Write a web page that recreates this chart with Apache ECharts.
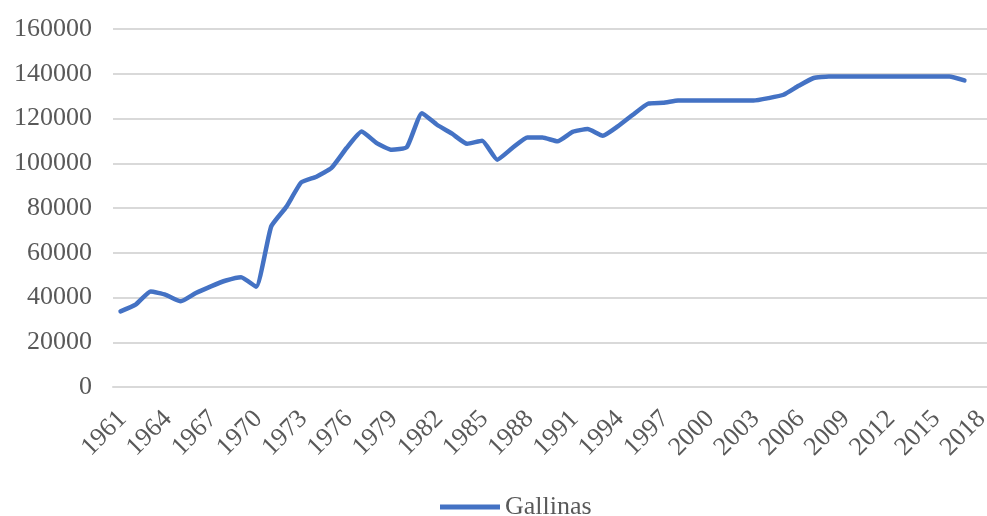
<!DOCTYPE html>
<html>
<head>
<meta charset="utf-8">
<script src="https://cdn.jsdelivr.net/npm/echarts@6/dist/echarts.min.js"></script>
<style>
  html, body { margin: 0; padding: 0; background: #ffffff; }
  #chart { width: 987px; height: 516px; }
</style>
</head>
<body>
<div id="chart"></div>
<script>
// Years on the category axis
const years = [];
for (let y = 1961; y <= 2018; y++) years.push(String(y));

// Gallinas (hens), head count per year; no value for the final year
const gallinas = [
  33800, 36800, 42700, 41200, 38300, 42000, 45000, 47600, 49100, 44800,
  71800, 80500, 91500, 94000, 97900, 106800, 114200, 109000, 106000, 107200,
  122400, 117200, 113200, 108700, 110100, 101600, 106800, 111500, 111500, 109800,
  114000, 115300, 112300, 116500, 121700, 126600, 127000, 128000, 128100, 128000,
  128000, 128000, 128000, 129100, 130600, 134600, 138100, 138800, 138800, 138800,
  138800, 138800, 138800, 138800, 138800, 138800, 137000, null
];

// Value axis ticks
const yMin = 0;
const yMax = 160000;
const yStep = 20000;

const textColor = '#595959';
const fontFamily = '"Liberation Serif", "Times New Roman", serif';

const chart = echarts.init(document.getElementById('chart'), null, { renderer: 'canvas' });
chart.setOption({
  animation: false,
  backgroundColor: '#ffffff',
  grid: {
    left: 113, top: 29, width: 874, height: 358,
    containLabel: false,
    outerBoundsMode: 'none'
  },
  xAxis: {
    type: 'category',
    data: years,
    boundaryGap: true,
    axisLine: { show: true, lineStyle: { color: '#d9d9d9', width: 2 } },
    axisTick: { show: false },
    axisLabel: {
      interval: 2,
      rotate: 45,
      margin: 30,
      padding: [0, -3, 0, 0],
      color: textColor,
      fontFamily: fontFamily,
      fontSize: 26
    },
    splitLine: { show: false }
  },
  yAxis: {
    type: 'value',
    min: yMin,
    max: yMax,
    interval: yStep,
    axisLine: { show: false },
    axisTick: { show: false },
    axisLabel: {
      margin: 21,
      color: textColor,
      fontFamily: fontFamily,
      fontSize: 26,
      formatter: (v) => String(v)
    },
    splitLine: { show: true, lineStyle: { color: '#d9d9d9', width: 2 } }
  },
  legend: {
    data: ['Gallinas'],
    left: 440,
    top: 494,
    padding: 0,
    itemWidth: 60,
    itemHeight: 5,
    icon: 'rect',
    textStyle: { color: textColor, fontFamily: fontFamily, fontSize: 26 }
  },
  series: [{
    name: 'Gallinas',
    type: 'line',
    data: gallinas,
    smooth: 0.15,
    showSymbol: false,
    symbol: 'none',
    lineStyle: { color: '#4472c4', width: 4.5, cap: 'round', join: 'round' },
    itemStyle: { color: '#4472c4' }
  }]
});
</script>
</body>
</html>
